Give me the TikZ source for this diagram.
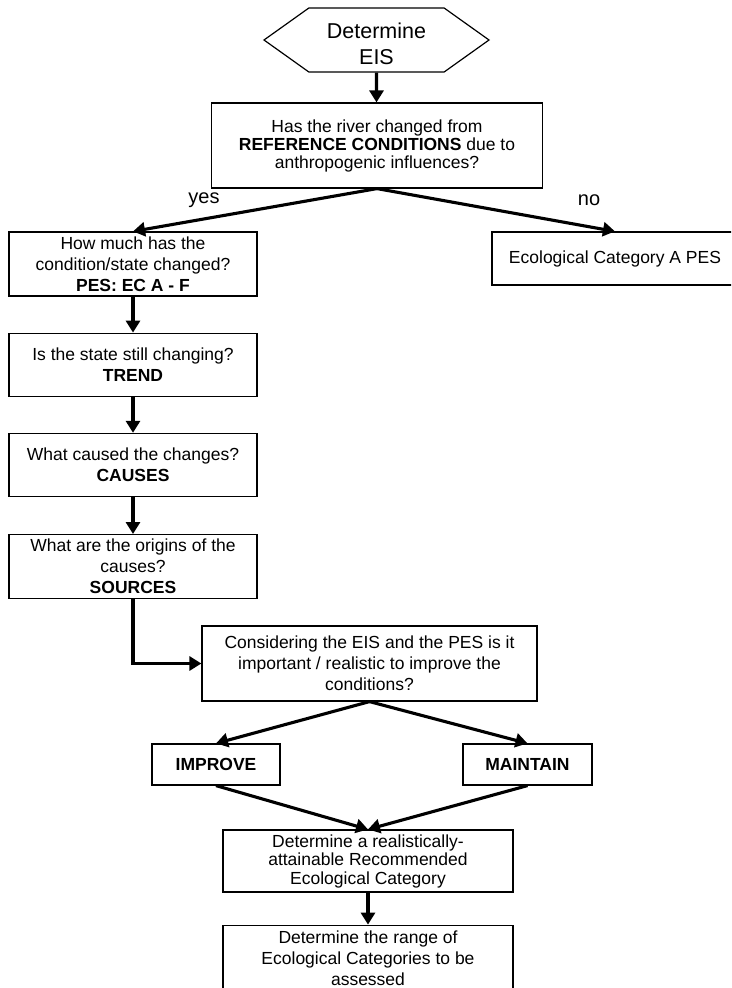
\documentclass[tikz,border=0pt]{standalone}
\usepackage{fontspec}
\setmainfont{Liberation Sans}
\usetikzlibrary{arrows.meta, positioning, shapes.symbols}

\tikzset{
  box/.style={draw, line width=1.2pt, align=center, inner sep=2pt,
    font=\fontsize{17.5}{18}\selectfont},
  widebox/.style={box, font=\fontsize{17.5}{21}\selectfont},
  colbox/.style={widebox, minimum width=248pt, minimum height=63pt},
  hexa/.style={draw, line width=1.2pt, align=center, inner sep=2pt,
    shape=signal, signal to=west and east, signal pointer angle=71,
    minimum width=225pt, minimum height=64pt,
    text height=49pt, text depth=0pt,
    font=\fontsize{21.5}{26.5}\selectfont},
  lbl/.style={font=\fontsize{20}{22}\selectfont, inner sep=0pt},
  flow/.style={line width=3.1pt, -{Triangle[length=12pt,width=14pt]}},
}

\begin{document}
\begin{tikzpicture}[x=1pt, y=-1pt]
  \useasboundingbox (0,0) rectangle (731,988);
  \clip (0,0) rectangle (731,988);

  \node [hexa] (eis) at (376.5,40) {Determine\\EIS};
  \node [box, minimum width=331pt, minimum height=85pt] (ref) at (377,145.5)
    {Has the river changed from\\\textbf{REFERENCE CONDITIONS} due to\\anthropogenic influences?};
  \node [colbox, minimum height=64pt] (much) at (133,264)
    {How much has the\\condition/state changed?\\\textbf{PES: EC A - F}};
  \node [box, minimum width=246pt, minimum height=53pt] (pesA) at (615,258.5)
    {Ecological Category A PES};
  \node [colbox, below=36pt of much] (trend)
    {Is the state still changing?\\\textbf{TREND}};
  \node [colbox, below=36pt of trend] (causes)
    {What caused the changes?\\\textbf{CAUSES}};
  \node [colbox, minimum height=64pt, below=37pt of causes] (sources)
    {What are the origins of the\\causes?\\\textbf{SOURCES}};
  \node [widebox, minimum width=335pt, minimum height=75pt] (consider) at (369.5,663.5)
    {Considering the EIS and the PES is it\\important / realistic to improve the\\conditions?};
  \node [box, minimum width=128pt, minimum height=41pt] (improve) at (216,764.5)
    {\textbf{IMPROVE}};
  \node [box, minimum width=129pt, minimum height=41pt] (maintain) at (527.5,764.5)
    {\textbf{MAINTAIN}};
  \node [box, minimum width=290pt, minimum height=62pt,
    font=\fontsize{17.5}{18.5}\selectfont] (recom) at (368,861)
    {Determine a realistically-\\attainable Recommended\\Ecological Category};
  \node [widebox, minimum width=290pt, minimum height=66pt, below=32pt of recom] (range)
    {Determine the range of\\Ecological Categories to be\\assessed};

  \node [lbl] (yes) at (204,200) {yes};
  \node [lbl] (no) at (589,200) {no};

  \draw [flow] (eis) -- (eis.south |- ref.north);
  \draw [flow] (ref.south) -- (much.north);
  \draw [flow] (ref.south) -- (pesA.north);
  \draw [flow] (much) -- (trend);
  \draw [flow] (trend) -- (causes);
  \draw [flow] (causes) -- (sources);
  \draw [flow] (sources) |- (consider);
  \draw [flow] (consider.south) -- (improve.north);
  \draw [flow] (consider.south) -- (maintain.north);
  \draw [flow] (improve.south) -- (recom.north);
  \draw [flow] (maintain.south) -- (recom.north);
  \draw [flow] (recom) -- (range);
\end{tikzpicture}
\end{document}
